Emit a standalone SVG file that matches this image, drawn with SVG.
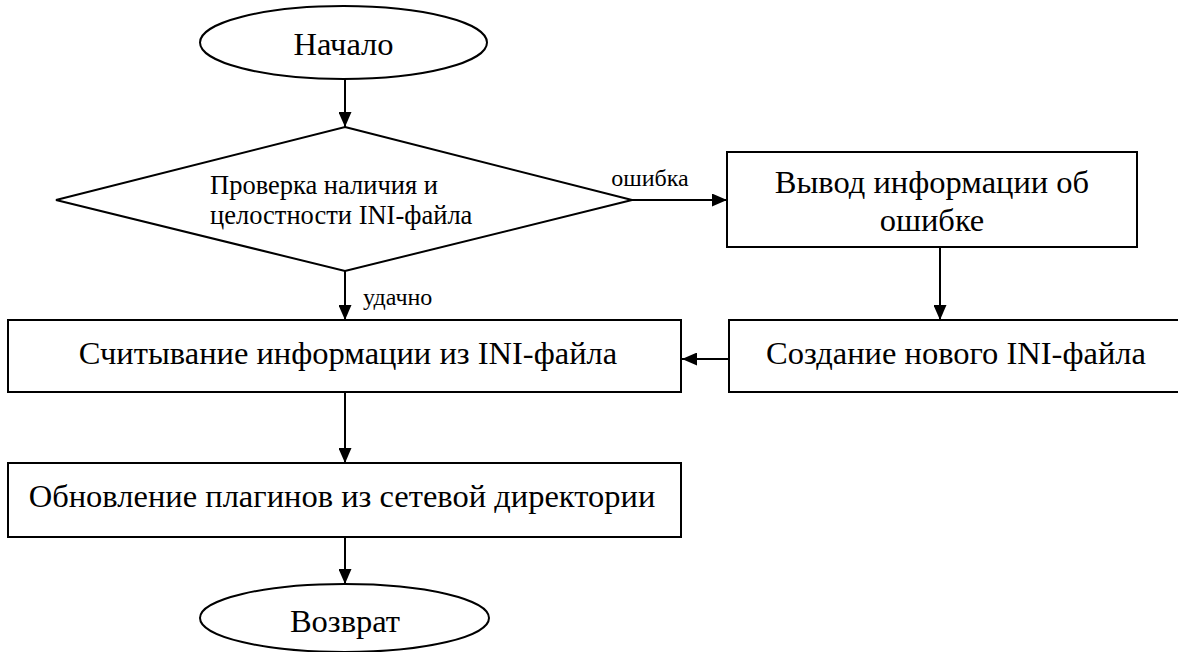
<svg xmlns="http://www.w3.org/2000/svg" width="1178" height="652" viewBox="0 0 1178 652">
<defs>
<marker id="arr" markerWidth="15" markerHeight="13" refX="15" refY="6.5" orient="auto" markerUnits="userSpaceOnUse">
<path d="M0,0 L15,6.5 L0,13 Z" fill="#000"/>
</marker>
<style>
.s{fill:#fff;stroke:#000;stroke-width:2}
.t{font-family:"Liberation Serif","Times New Roman",serif;fill:#000;text-anchor:middle}
.l{text-anchor:start}
.big{font-size:32.5px}
.mid{font-size:26.5px}
.sm{font-size:24px}
.c{stroke:#000;stroke-width:2;fill:none;marker-end:url(#arr)}
</style>
</defs>
<rect width="1178" height="652" fill="#fff"/>
<g id="start">
<ellipse class="s" cx="343.5" cy="42.5" rx="143.5" ry="36.5"/>
<text class="t big" x="343.5" y="55">Начало</text>
</g>
<g id="check">
<polygon class="s" points="345,127 632,200 345,271 56,200"/>
<text class="t mid l" x="210" y="194">Проверка наличия и</text>
<text class="t mid l" x="210" y="224">целостности INI-файла</text>
</g>
<g id="error">
<rect class="s" x="727" y="152" width="410" height="95"/>
<text class="t big" x="932" y="193">Вывод информации об</text>
<text class="t big" x="932" y="231">ошибке</text>
</g>
<g id="create">
<rect class="s" x="729" y="320" width="460" height="72"/>
<text class="t big" x="956" y="364">Создание нового INI-файла</text>
</g>
<g id="read">
<rect class="s" x="8" y="320" width="673" height="72"/>
<text class="t big" x="348" y="364">Считывание информации из INI-файла</text>
</g>
<g id="update">
<rect class="s" x="8" y="463" width="673" height="74"/>
<text class="t big" x="342" y="507">Обновление плагинов из сетевой директории</text>
</g>
<g id="end">
<ellipse class="s" cx="344.5" cy="618" rx="144.5" ry="34"/>
<text class="t big" x="345" y="632">Возврат</text>
</g>
<g id="connectors">
<line class="c" x1="345" y1="79" x2="345" y2="127"/>
<line class="c" x1="632" y1="200" x2="727" y2="200"/>
<line class="c" x1="940" y1="247" x2="940" y2="320"/>
<line class="c" x1="729" y1="359" x2="682" y2="359"/>
<line class="c" x1="345" y1="271" x2="345" y2="320"/>
<line class="c" x1="345" y1="392" x2="345" y2="463"/>
<line class="c" x1="345" y1="537" x2="345" y2="584"/>
<text class="t sm" x="650" y="186">ошибка</text>
<text class="t sm l" x="363" y="305">удачно</text>
</g>
</svg>
